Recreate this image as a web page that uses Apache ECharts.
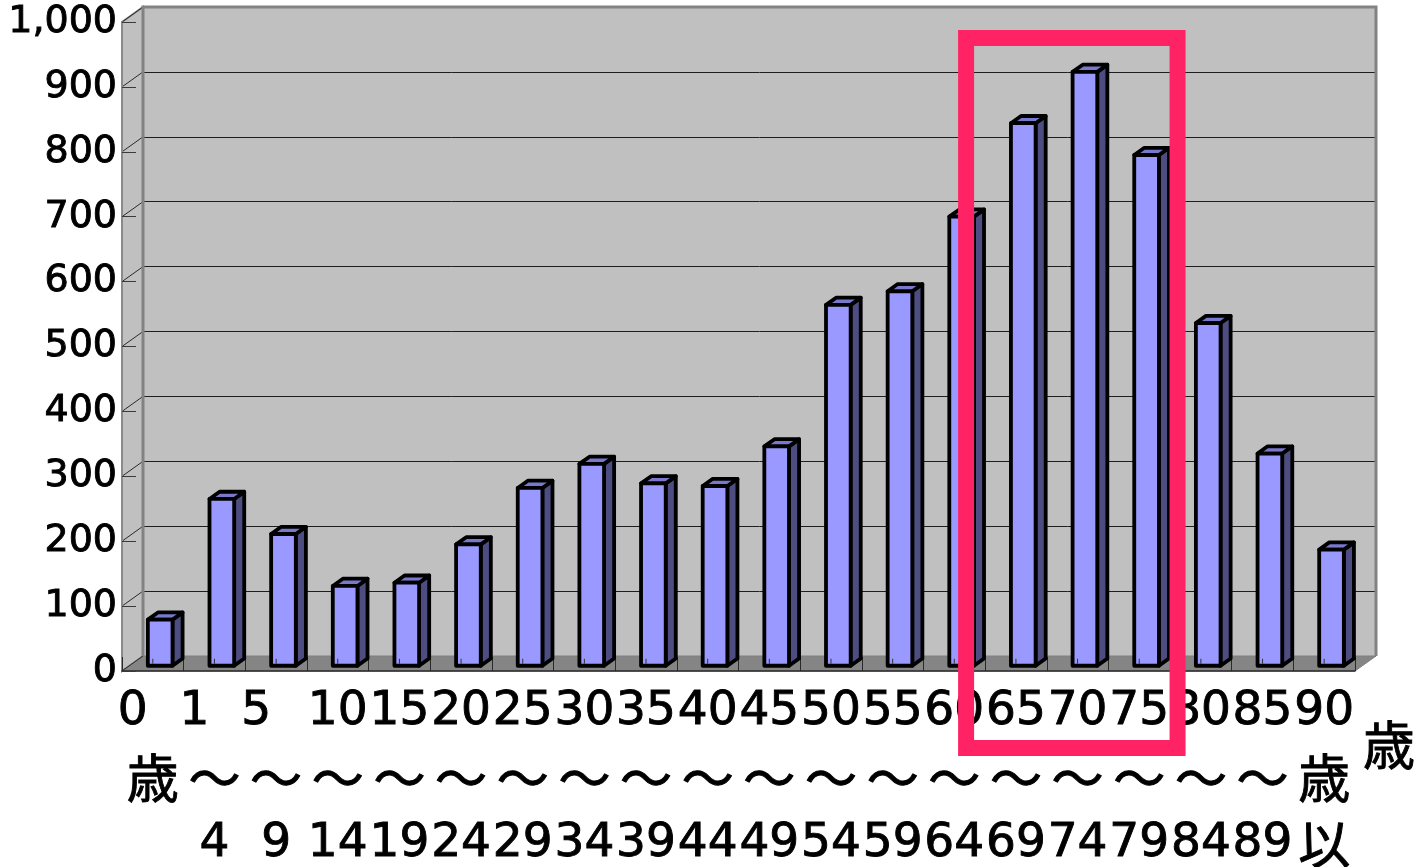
<!DOCTYPE html>
<html>
<head>
<meta charset="utf-8">
<script src="https://cdn.jsdelivr.net/npm/echarts@6/dist/echarts.min.js"></script>
<style>
  html, body { margin: 0; padding: 0; background: #ffffff; }
  #chart { width: 1421px; height: 867px; }
</style>
</head>
<body>
<div id="chart"></div>
<script>
// Age bands: first line (start age), middle line (歳 / 〜), last line (end age)
const ageStart = ['0', '1', '5', '10', '15', '20', '25', '30', '35', '40', '45', '50', '55', '60', '65', '70', '75', '80', '85', '90'];
const ageMid   = ['歳', '〜', '〜', '〜', '〜', '〜', '〜', '〜', '〜', '〜', '〜', '〜', '〜', '〜', '〜', '〜', '〜', '〜', '〜', '歳'];
const ageEnd   = ['', '4', '9', '14', '19', '24', '29', '34', '39', '44', '49', '54', '59', '64', '69', '74', '79', '84', '89', '以上'];

// Count per age band
const counts = [71, 257, 203, 123, 128, 187, 274, 311, 281, 277, 338, 556, 577, 692, 836, 915, 787, 528, 327, 179];

// Value axis ticks
const yTicks = [0, 100, 200, 300, 400, 500, 600, 700, 800, 900, 1000];

// Highlighted age bands
const highlightBands = ['65', '70', '75'];

// Layout of the front plane and the 3D depth offset of the back wall
const FRONT = { left: 122, top: 22, right: 66, bottom: 196 };
const DEPTH = { dx: 21, dy: -15 };
const BACK = {
  left: FRONT.left + DEPTH.dx,
  top: FRONT.top + DEPTH.dy,
  right: FRONT.right - DEPTH.dx,
  bottom: FRONT.bottom - DEPTH.dy
};
const BAR_FRONT = 0.35;   // depth position of the bar front face
const BAR_DEPTH = 0.48;   // depth of each column
const BAR_WIDTH = 0.40;   // share of the category band

const DIGIT_FONT = 'DejaVu Sans';
const CJK_FONT = 'Noto Sans CJK JP';
// a hairline outline gives the label glyphs a slightly heavier weight
const INK = { textBorderColor: '#000000', textBorderWidth: 0.9 };

const chart = echarts.init(document.getElementById('chart'), null, { renderer: 'canvas' });

function bandLabel(value, idx) {
  const parts = [];
  const first = ageStart[idx].length === 1 ? '{n|' + ageStart[idx] + '}{g| }' : '{n|' + ageStart[idx] + '}';
  parts.push(first);
  parts.push('{j|' + ageMid[idx] + '}');
  const end = ageEnd[idx];
  if (end === '') {
    // nothing on the third line
  } else if (/^\d+$/.test(end)) {
    parts.push('{n|' + end + '}');
  } else {
    for (const ch of end) parts.push('{j|' + ch + '}');
  }
  return parts.join('\n');
}

function renderWalls(params, api) {
  const cs = params.coordSys;
  const x = cs.x, y = cs.y, w = cs.width, h = cs.height;
  const dx = DEPTH.dx, dy = DEPTH.dy;
  const children = [];
  // left side wall
  children.push({
    type: 'polygon',
    shape: { points: [[x, y], [x + dx, y + dy], [x + dx, y + h + dy], [x, y + h]] },
    style: { fill: '#c0c0c0', stroke: '#8a8a8a', lineWidth: 2 }
  });
  // floor
  children.push({
    type: 'polygon',
    shape: { points: [[x, y + h], [x + w, y + h], [x + w + dx, y + h + dy], [x + dx, y + h + dy]] },
    style: { fill: '#858585', stroke: '#808080', lineWidth: 1 }
  });
  // diagonal gridlines on the side wall
  yTicks.forEach(function (v) {
    const p = api.coord([0, v]);
    children.push({
      type: 'line',
      shape: { x1: x, y1: p[1], x2: x + dx, y2: p[1] + dy },
      style: { stroke: '#2a2a2a', lineWidth: 1 }
    });
  });
  // back wall frame
  children.push({
    type: 'polyline',
    shape: { points: [[x + dx, y + h + dy], [x + dx, y + dy], [x + w + dx, y + dy], [x + w + dx, y + h + dy]] },
    style: { fill: null, stroke: '#828282', lineWidth: 3 }
  });
  return { type: 'group', children: children };
}

function renderBar(params, api) {
  const i = api.value(0);
  const v = api.value(1);
  const base = api.coord([i, 0]);
  const top = api.coord([i, v]);
  const band = api.size([1, 0])[0];
  const w = band * BAR_WIDTH;
  const fx = DEPTH.dx * BAR_FRONT, fy = DEPTH.dy * BAR_FRONT;
  const sx = DEPTH.dx * BAR_DEPTH, sy = DEPTH.dy * BAR_DEPTH;
  const x0 = base[0] - w / 2 + fx;
  const x1 = x0 + w;
  const yb = base[1] + fy;
  const yt = top[1] + fy;
  const edge = { stroke: '#000000', lineWidth: 3.8, lineJoin: 'round' };
  return {
    type: 'group',
    children: [
      {
        type: 'polygon',
        shape: { points: [[x1, yb], [x1 + sx, yb + sy], [x1 + sx, yt + sy], [x1, yt]] },
        style: Object.assign({ fill: '#4d4d82' }, edge)
      },
      {
        type: 'polygon',
        shape: { points: [[x0, yt], [x1, yt], [x1 + sx, yt + sy], [x0 + sx, yt + sy]] },
        style: Object.assign({ fill: '#7878cc' }, edge)
      },
      {
        type: 'rect',
        shape: { x: x0, y: yt, width: w, height: yb - yt },
        style: Object.assign({ fill: '#9999ff' }, edge)
      },
      {
        type: 'line',
        shape: { x1: base[0], y1: yb - 7, x2: base[0], y2: yb - 2 },
        style: { stroke: '#333333', lineWidth: 1 }
      }
    ]
  };
}

const option = {
  backgroundColor: '#ffffff',
  animation: false,
  grid: [
    { // back wall
      left: BACK.left, top: BACK.top, right: BACK.right, bottom: BACK.bottom,
      outerBoundsMode: 'none', containLabel: false,
      show: true, backgroundColor: '#c0c0c0', borderWidth: 0
    },
    { // front plane
      left: FRONT.left, top: FRONT.top, right: FRONT.right, bottom: FRONT.bottom,
      outerBoundsMode: 'none', containLabel: false,
      show: false
    }
  ],
  xAxis: [
    {
      gridIndex: 0, type: 'category', data: ageStart,
      axisLine: { show: false }, axisTick: { show: false }, axisLabel: { show: false }, splitLine: { show: false }
    },
    {
      gridIndex: 1, type: 'category', data: ageStart,
      axisLine: { show: true, lineStyle: { color: '#2a2a2a', width: 1.5 } },
      axisTick: { show: true, inside: true, length: 14, lineStyle: { color: '#2a2a2a', width: 1 } },
      splitLine: { show: false },
      axisLabel: {
        interval: 0,
        margin: 8,
        color: '#000000',
        formatter: bandLabel,
        rich: {
          n: Object.assign({ fontFamily: DIGIT_FONT, fontSize: 47, lineHeight: 66, color: '#000000' }, INK),
          g: { fontFamily: DIGIT_FONT, fontSize: 47, lineHeight: 66, width: 40 },
          j: Object.assign({ fontFamily: CJK_FONT, fontSize: 52, lineHeight: 66, color: '#000000' }, INK)
        }
      },
      z: 3
    }
  ],
  yAxis: [
    {
      gridIndex: 0, type: 'value',
      min: yTicks[0], max: yTicks[yTicks.length - 1], interval: yTicks[1] - yTicks[0],
      axisLine: { show: false }, axisTick: { show: false }, axisLabel: { show: false },
      splitLine: { show: true, lineStyle: { color: '#1e1e1e', width: 1 } }
    },
    {
      gridIndex: 1, type: 'value',
      min: yTicks[0], max: yTicks[yTicks.length - 1], interval: yTicks[1] - yTicks[0],
      axisLine: { show: true, lineStyle: { color: '#8a8a8a', width: 2 } },
      axisTick: { show: true, inside: true, length: 14, lineStyle: { color: '#3a3a3a', width: 1 } },
      splitLine: { show: false },
      axisLabel: Object.assign({
        margin: 5,
        fontFamily: DIGIT_FONT, fontSize: 38, color: '#000000',
        formatter: function (v) { return v.toLocaleString('en-US'); }
      }, INK),
      z: 3
    }
  ],
  series: [
    {
      type: 'custom', name: 'walls', xAxisIndex: 1, yAxisIndex: 1,
      data: [[0, 0]], renderItem: renderWalls, silent: true, z: 1, clip: false
    },
    {
      type: 'custom', name: '人数', xAxisIndex: 1, yAxisIndex: 1,
      data: counts.map(function (c, i) { return [i, c]; }),
      renderItem: renderBar, z: 4, clip: false
    }
  ]
};

chart.setOption(option);

// Highlight frame around the selected age bands and the unit label
(function () {
  const idx = highlightBands.map(function (b) { return ageStart.indexOf(b); });
  const first = Math.min.apply(null, idx), last = Math.max.apply(null, idx);
  const c0 = chart.convertToPixel({ xAxisIndex: 1, yAxisIndex: 1 }, [first, yTicks[yTicks.length - 1]]);
  const c1 = chart.convertToPixel({ xAxisIndex: 1, yAxisIndex: 1 }, [last, yTicks[0]]);
  const band = (chart.getWidth() - FRONT.left - FRONT.right) / ageStart.length;
  const left = c0[0] - band / 2 - 19;
  const right = c1[0] + band / 2 + 7.5;
  const top = c0[1] + 16;
  const bottom = c1[1] + 77;
  chart.setOption({
    graphic: [
      {
        type: 'rect', z: 100, silent: true,
        shape: { x: left, y: top, width: right - left, height: bottom - top },
        style: { fill: null, stroke: '#ff2366', lineWidth: 16 }
      },
      {
        type: 'text', z: 100, silent: true,
        x: 1389, y: 745,
        style: {
          text: '歳', font: '52px "' + CJK_FONT + '"', fill: '#000000',
          stroke: '#000000', lineWidth: 0.9,
          align: 'center', verticalAlign: 'middle'
        }
      }
    ]
  });
})();
</script>
</body>
</html>
